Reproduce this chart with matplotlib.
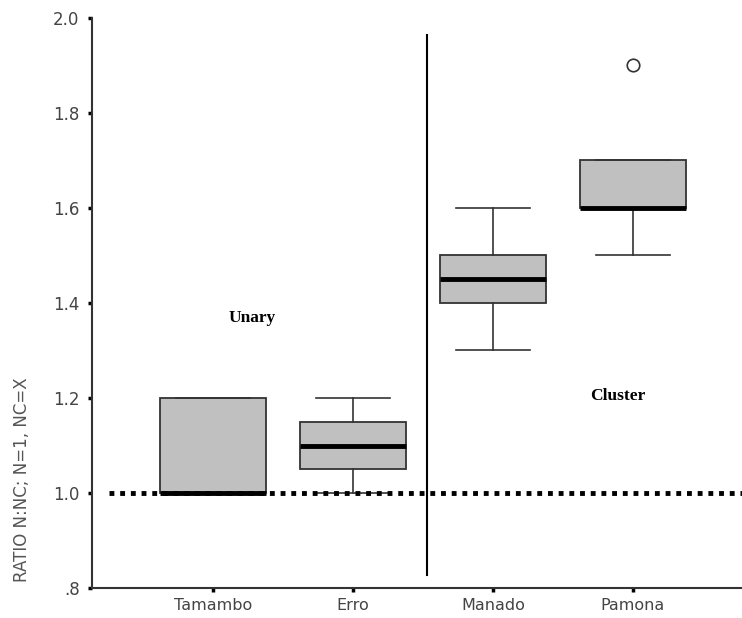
import matplotlib
matplotlib.use("Agg")
import matplotlib.pyplot as plt

# -- data
languages = ['Tamambo', 'Erro', 'Manado', 'Pamona']
whis_lo = [1.0, 1.0, 1.3, 1.5]
q1 = [1.0, 1.05, 1.4, 1.6]
medians = [1.0, 1.1, 1.45, 1.6]
q3 = [1.2, 1.15, 1.5, 1.7]
whis_hi = [1.2, 1.2, 1.6, 1.7]
outliers = [[], [], [], [1.9]]
yticks = [0.8, 1.0, 1.2, 1.4, 1.6, 1.8, 2.0]
ytick_labels = ['.8', '1.0', '1.2', '1.4', '1.6', '1.8', '2.0']

stats = []
for i, name in enumerate(languages):
    stats.append({'label': name, 'whislo': whis_lo[i], 'q1': q1[i], 'med': medians[i],
                  'q3': q3[i], 'whishi': whis_hi[i], 'fliers': outliers[i]})

fig = plt.figure(figsize=(7.42, 6.18), dpi=100)
ax = fig.add_axes([0.124, 0.0485, 0.876, 0.9225])

ax.bxp(stats, positions=range(len(languages)), widths=0.76, patch_artist=True,
       boxprops=dict(facecolor='#c0c0c0', edgecolor='#333333', linewidth=1.3),
       medianprops=dict(color='black', linewidth=3.5, solid_capstyle='butt'),
       whiskerprops=dict(color='#333333', linewidth=1.2),
       capprops=dict(color='#333333', linewidth=1.2), capwidths=0.53,
       flierprops=dict(marker='o', markersize=9, markerfacecolor='white',
                       markeredgecolor='#333333', markeredgewidth=1.2))

# baseline N = NC and the unary / cluster divide
ax.plot([-0.74, 3.78], [1.0, 1.0], color='black', linestyle=(0, (1, 1.2)), linewidth=3.5,
        zorder=4)
ax.plot([1.53, 1.53], [0.827, 1.964], color='black', linewidth=1.5)

ax.text(0.28, 1.368, 'Unary', family='Liberation Serif', fontweight='bold', fontsize=12.5,
        ha='center', va='center')
ax.text(2.89, 1.204, 'Cluster', family='Liberation Serif', fontweight='bold', fontsize=12.5,
        ha='center', va='center')

ax.set_xlim(-0.864, 3.78)
ax.set_ylim(0.8, 2.0)
ax.set_yticks(yticks)
ax.set_yticklabels(ytick_labels)
ax.set_xticks(range(len(languages)))
ax.set_xticklabels(languages)

for s in ['top', 'right']:
    ax.spines[s].set_visible(False)
for s in ['left', 'bottom']:
    ax.spines[s].set_color('#333333')
    ax.spines[s].set_linewidth(1.5)
ax.tick_params(axis='both', direction='out', length=3, width=2.5, color='black',
               labelsize=12, labelcolor='#444444')
ax.tick_params(axis='y', pad=6)
ax.tick_params(axis='x', pad=4, labelsize=11.5)

ax.text(-0.108, 0.19, 'RATIO N:NC; N=1, NC=X', transform=ax.transAxes, rotation=90,
        ha='center', va='center', fontsize=12, color='#555555')

fig.savefig('out.png', dpi=100)
